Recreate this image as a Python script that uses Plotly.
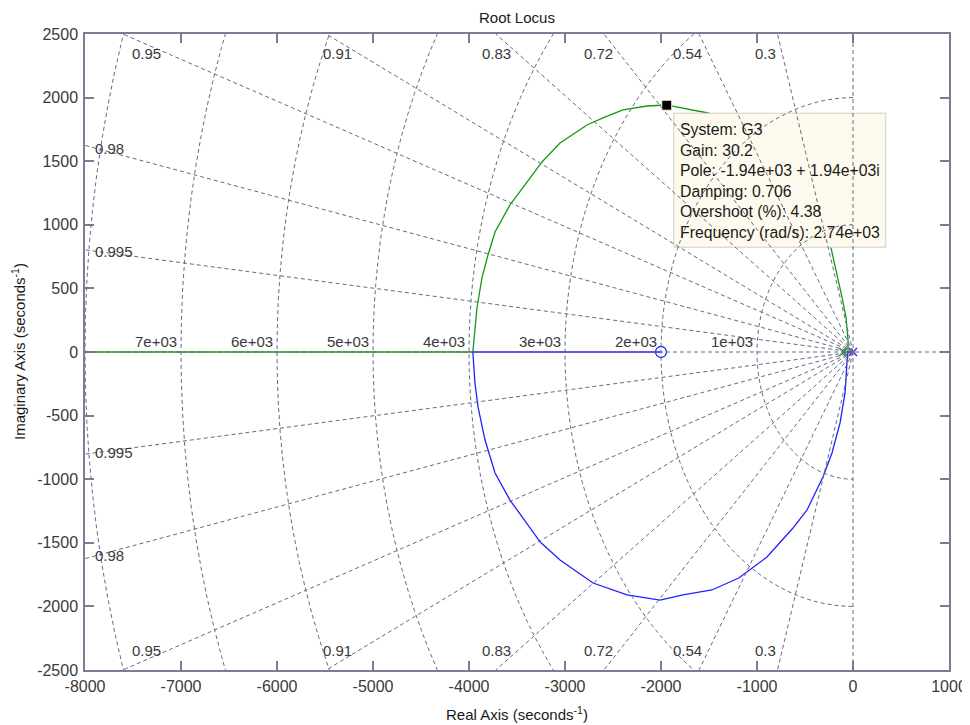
import numpy as np
import plotly.graph_objects as go

# ---------------- data ----------------
# branch 1 (green): from pole at -100, up around the zero, then off to -inf
green_re = [-100, -52, -52, -73, -115, -188, -229, -479, -625, -896, -1177, -1510,
            -1948, -2146, -2396, -2604, -2771, -3052, -3240, -3396, -3573, -3729,
            -3802, -3865, -3917, -3960, -8000]
green_im = [0, 0, 94, 275, 432, 668, 818, 1242, 1384, 1612, 1777, 1879,
            1942, 1934, 1903, 1840, 1785, 1643, 1494, 1336, 1156, 943,
            763, 582, 346, 0, 0]
# branch 2 (blue): from pole at 0, down around the zero, then into the zero
blue_re = [0, -52, -63, -83, -135, -219, -313, -479, -625, -896, -1190, -1470,
           -1771, -2010, -2354, -2708, -3052, -3258, -3573, -3729, -3833, -3906,
           -3938, -3960, -2000]
blue_im = [0, 0, -86, -322, -558, -794, -983, -1242, -1384, -1612, -1777, -1871,
           -1910, -1950, -1910, -1816, -1635, -1494, -1164, -951, -692, -432,
           -244, 0, 0]

pole_re = [0, -100]
pole_im = [0, 0]
zero_re = [-2000]
zero_im = [0]

# data tip
tip_re = -1940
tip_im = 1940
tip_lines = ["System: G3", "Gain: 30.2", "Pole: -1.94e+03 + 1.94e+03i",
             "Damping: 0.706", "Overshoot (%): 4.38", "Frequency (rad/s): 2.74e+03"]

# s-plane grid
damping = [0.3, 0.54, 0.72, 0.83, 0.91, 0.95, 0.98, 0.995]
damping_top = [0.3, 0.54, 0.72, 0.83, 0.91, 0.95]
damping_left = [0.98, 0.995]
natfreq = [1000, 2000, 3000, 4000, 5000, 6000, 7000, 8000]
natfreq_labels = ["1e+03", "2e+03", "3e+03", "4e+03", "5e+03", "6e+03", "7e+03", "8e+03"]

x_ticks = [-8000, -7000, -6000, -5000, -4000, -3000, -2000, -1000, 0, 1000]
y_ticks = [-2500, -2000, -1500, -1000, -500, 0, 500, 1000, 1500, 2000, 2500]
x_range = [-8000, 1000]
y_range = [-2500, 2500]

# ---------------- styling ----------------
FONT = "Liberation Sans, Arial, sans-serif"
GRID_C = "#686884"
AXIS_C = "#7c7c96"
TXT_C = "#3a3a3a"
GREEN = "#139a13"
BLUE = "#2020ff"

# page body has an 8px margin, so the figure is sized to fit the window
W, H = 962, 717
ML, MT = 77, 26
PLOT_W, PLOT_H = 864, 636
MR = W - ML - PLOT_W
MB = H - MT - PLOT_H

fig = go.Figure()

fig.add_trace(go.Scatter(x=green_re, y=green_im, mode="lines",
                         line=dict(color=GREEN, width=1.3), hoverinfo="skip"))
fig.add_trace(go.Scatter(x=blue_re, y=blue_im, mode="lines",
                         line=dict(color=BLUE, width=1.3), hoverinfo="skip"))
fig.add_trace(go.Scatter(x=zero_re, y=zero_im, mode="markers",
                         marker=dict(symbol="circle-open", size=11, color=BLUE,
                                     line=dict(width=1.3, color=BLUE)), hoverinfo="skip"))
fig.add_trace(go.Scatter(x=pole_re, y=pole_im, mode="markers",
                         marker=dict(symbol="x-thin-open", size=8, color=[BLUE, GREEN],
                                     line=dict(width=1.3, color=[BLUE, GREEN])), hoverinfo="skip"))
fig.add_trace(go.Scatter(x=[tip_re], y=[tip_im], mode="markers",
                         marker=dict(symbol="square", size=10, color="black",
                                     line=dict(width=1, color="#fff6e0")), hoverinfo="skip"))

shapes = []
# data-tip box (covers the locus, grid drawn over it)
shapes.append(dict(type="rect", xref="x", yref="y", xsizemode="pixel", ysizemode="pixel",
                   xanchor=tip_re, yanchor=tip_im, x0=7, x1=219, y0=-8, y1=-142,
                   fillcolor="#fffaee", line=dict(color="#cfcfc8", width=1), layer="above"))

dash = "4px,3px"
R = 20000
for z in damping:
    for sgn in (1, -1):
        x_end = -R * z
        y_end = sgn * R * np.sqrt(1 - z * z)
        shapes.append(dict(type="line", xref="x", yref="y", x0=0, y0=0, x1=x_end, y1=y_end,
                           line=dict(color=GRID_C, width=1, dash=dash), layer="above"))
# zeta = 1 (real axis) and zeta = 0 (imaginary axis)
shapes.append(dict(type="line", xref="x", yref="y", x0=x_range[0], y0=0, x1=x_range[1], y1=0,
                   line=dict(color=GRID_C, width=1, dash=dash), layer="above"))
shapes.append(dict(type="line", xref="x", yref="y", x0=0, y0=y_range[0], x1=0, y1=y_range[1],
                   line=dict(color=GRID_C, width=1, dash=dash), layer="above"))
ang = np.linspace(np.pi / 2, 3 * np.pi / 2, 91)
for w in natfreq:
    pts = [(w * np.cos(a), w * np.sin(a)) for a in ang]
    path = "M " + " L ".join(f"{px:.1f},{py:.1f}" for px, py in pts)
    shapes.append(dict(type="path", xref="x", yref="y", path=path,
                       line=dict(color=GRID_C, width=1, dash=dash), layer="above"))

annotations = []
lab_font = dict(family=FONT, size=15, color=TXT_C)
# damping labels at top & bottom
y_lab = 2350
for z in damping_top:
    xr = -y_lab * z / np.sqrt(1 - z * z)
    for sgn in (1, -1):
        annotations.append(dict(x=xr, y=sgn * y_lab, xref="x", yref="y", text=str(z),
                                showarrow=False, xanchor="right", yanchor="middle",
                                xshift=-4, font=lab_font))
# damping labels on the left
x_lab = -7875
for z in damping_left:
    yr = -x_lab * np.sqrt(1 - z * z) / z
    for sgn in (1, -1):
        annotations.append(dict(x=x_lab, y=sgn * yr, xref="x", yref="y", text=str(z),
                                showarrow=False, xanchor="left", yanchor="middle",
                                xshift=-4, font=lab_font))
# natural frequency labels along the real axis
for w, t in zip(natfreq, natfreq_labels):
    if -w > x_range[0]:
        annotations.append(dict(x=-w, y=0, xref="x", yref="y", text=t, showarrow=False,
                                xanchor="right", yanchor="bottom", xshift=-2, yshift=0,
                                font=lab_font))
# data tip text
annotations.append(dict(x=tip_re, y=tip_im, xref="x", yref="y", text="<br>".join(tip_lines),
                        showarrow=False, xanchor="left", yanchor="top", align="left",
                        xshift=11, yshift=-14, font=dict(family=FONT, size=15.8, color="#1a1a1a")))
# title and axis titles
annotations.append(dict(x=0.5, y=1 + 17 / PLOT_H, xref="paper", yref="paper", text="Root Locus",
                        showarrow=False, xanchor="center", yanchor="middle",
                        font=dict(family=FONT, size=15, color="#1a1a1a")))
annotations.append(dict(x=0.5, y=-(713 - 670) / PLOT_H, xref="paper", yref="paper",
                        text="Real Axis (seconds<sup>-1</sup>)", showarrow=False,
                        xanchor="center", yanchor="middle",
                        font=dict(family=FONT, size=15, color="#1a1a1a")))
annotations.append(dict(x=-(85 - 18) / PLOT_W, y=0.5, xref="paper", yref="paper",
                        text="Imaginary Axis (seconds<sup>-1</sup>)", showarrow=False,
                        textangle=-90, xanchor="center", yanchor="middle",
                        font=dict(family=FONT, size=15, color="#1a1a1a")))

fig.update_layout(
    width=W, height=H,
    margin=dict(l=ML, r=MR, t=MT, b=MB, autoexpand=False),
    paper_bgcolor="white", plot_bgcolor="white",
    showlegend=False,
    shapes=shapes, annotations=annotations,
    font=dict(family=FONT, size=15, color=TXT_C),
    xaxis=dict(range=x_range, tickvals=x_ticks, ticktext=[str(v) for v in x_ticks],
               showgrid=False, zeroline=False, showline=True, linecolor=AXIS_C, linewidth=1.5,
               mirror="ticks", ticks="inside", ticklen=9, tickcolor=AXIS_C, tickwidth=1.5,
               ticklabelstandoff=1, tickfont=dict(family=FONT, size=16, color=TXT_C)),
    yaxis=dict(range=y_range, tickvals=y_ticks, ticktext=[str(v) for v in y_ticks],
               showgrid=False, zeroline=False, showline=True, linecolor=AXIS_C, linewidth=1.5,
               mirror="ticks", ticks="inside", ticklen=9, tickcolor=AXIS_C, tickwidth=1.5,
               ticklabelstandoff=2, tickfont=dict(family=FONT, size=16, color=TXT_C)),
)

fig.write_html("out.html")
